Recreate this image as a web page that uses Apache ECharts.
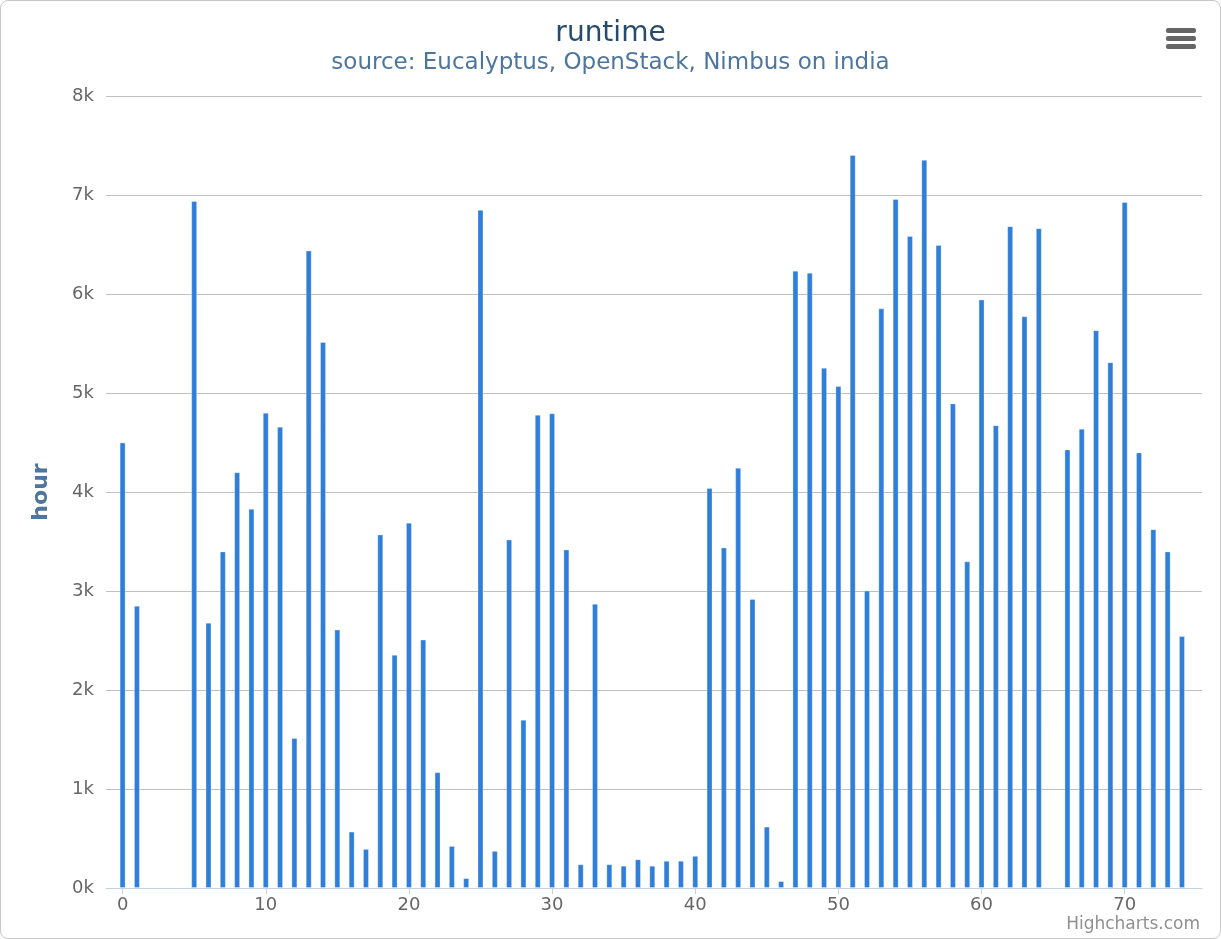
<!DOCTYPE html>
<html>
<head>
<meta charset="utf-8">
<title>runtime</title>
<script src="https://cdn.jsdelivr.net/npm/echarts@6/dist/echarts.min.js"></script>
<style>
  html, body { margin: 0; padding: 0; background: #fff; }
  #chart {
    width: 1221px;
    height: 939px;
    box-sizing: border-box;
    border: 1px solid #c8c8c8;
    border-radius: 8px;
  }
</style>
</head>
<body>
<div id="chart"></div>
<script>
// hours per run, index = x position (null = no bar)
var hours = [
  4500, 2850, null, null, null, 6940, 2680, 3400, 4200, 3830,
  4800, 4660, 1515, 6440, 5515, 2610, 570, 395, 3570, 2355,
  3690, 2510, 1170, 425, 100, 6850, 375, 3520, 1700, 4780,
  4795, 3420, 240, 2870, 240, 225, 290, 225, 275, 275,
  325, 4040, 3440, 4245, 2920, 620, 70, 6235, 6215, 5255,
  5070, 7405, 3005, 5855, 6960, 6585, 7355, 6495, 4895, 3300,
  5945, 4675, 6685, 5775, 6665, null, 4430, 4640, 5635, 5310,
  6930, 4400, 3625, 3400, 2545
];
var xTicks = [0, 10, 20, 30, 40, 50, 60, 70];
var yTicks = [0, 1000, 2000, 3000, 4000, 5000, 6000, 7000, 8000];

var fontName = 'DejaVu Sans';

var barData = [];
hours.forEach(function (v, i) {
  if (v !== null) barData.push([i, v]);
});

var myChart = echarts.init(document.getElementById('chart'));
var option;
option = {
  animation: false,
  title: {
    text: 'runtime',
    subtext: 'source: Eucalyptus, OpenStack, Nimbus on india',
    left: 'center',
    top: 14,
    itemGap: 4,
    textStyle: {
      color: '#274b6d',
      fontFamily: fontName,
      fontWeight: 'normal',
      fontSize: 28
    },
    subtextStyle: {
      color: '#4d759e',
      fontFamily: fontName,
      fontSize: 23
    }
  },
  grid: {
    left: 105,
    right: 18,
    top: 95,
    bottom: 50
  },
  xAxis: {
    type: 'value',
    min: -1.16,
    max: 75.4,
    splitLine: { show: false },
    axisLine: {
      show: true,
      lineStyle: { color: '#c0d0e0', width: 1 }
    },
    axisTick: {
      show: true,
      length: 6,
      customValues: xTicks,
      lineStyle: { color: '#c0d0e0' }
    },
    axisLabel: {
      customValues: xTicks,
      color: '#666',
      fontFamily: fontName,
      fontSize: 18,
      margin: 8
    }
  },
  yAxis: {
    type: 'value',
    min: 0,
    max: 8000,
    interval: 1000,
    name: 'hour',
    nameLocation: 'middle',
    nameGap: 54,
    nameTextStyle: {
      color: '#4d759e',
      fontFamily: fontName,
      fontWeight: 'bold',
      fontSize: 22
    },
    axisLine: { show: false },
    axisTick: { show: false },
    axisLabel: {
      customValues: yTicks,
      color: '#666',
      fontFamily: fontName,
      fontSize: 18,
      margin: 12,
      formatter: function (v) { return (v / 1000) + 'k'; }
    },
    splitLine: {
      lineStyle: { color: '#c0c0c0', width: 1 }
    }
  },
  series: [
    {
      type: 'bar',
      data: barData,
      barWidth: 6,
      itemStyle: {
        color: '#2f7ed8',
        borderColor: 'rgba(255,255,255,0.3)',
        borderWidth: 1
      }
    }
  ],
  graphic: [
    // export menu icon
    { type: 'rect', right: 24, top: 27, shape: { width: 30, height: 5, r: 2 }, style: { fill: '#666' } },
    { type: 'rect', right: 24, top: 35, shape: { width: 30, height: 5, r: 2 }, style: { fill: '#666' } },
    { type: 'rect', right: 24, top: 43, shape: { width: 30, height: 5, r: 2 }, style: { fill: '#666' } },
    {
      type: 'text',
      right: 20,
      bottom: 5,
      style: {
        text: 'Highcharts.com',
        fill: '#909090',
        font: '17px "DejaVu Sans"'
      }
    }
  ]
};

option && myChart.setOption(option);
</script>
</body>
</html>
